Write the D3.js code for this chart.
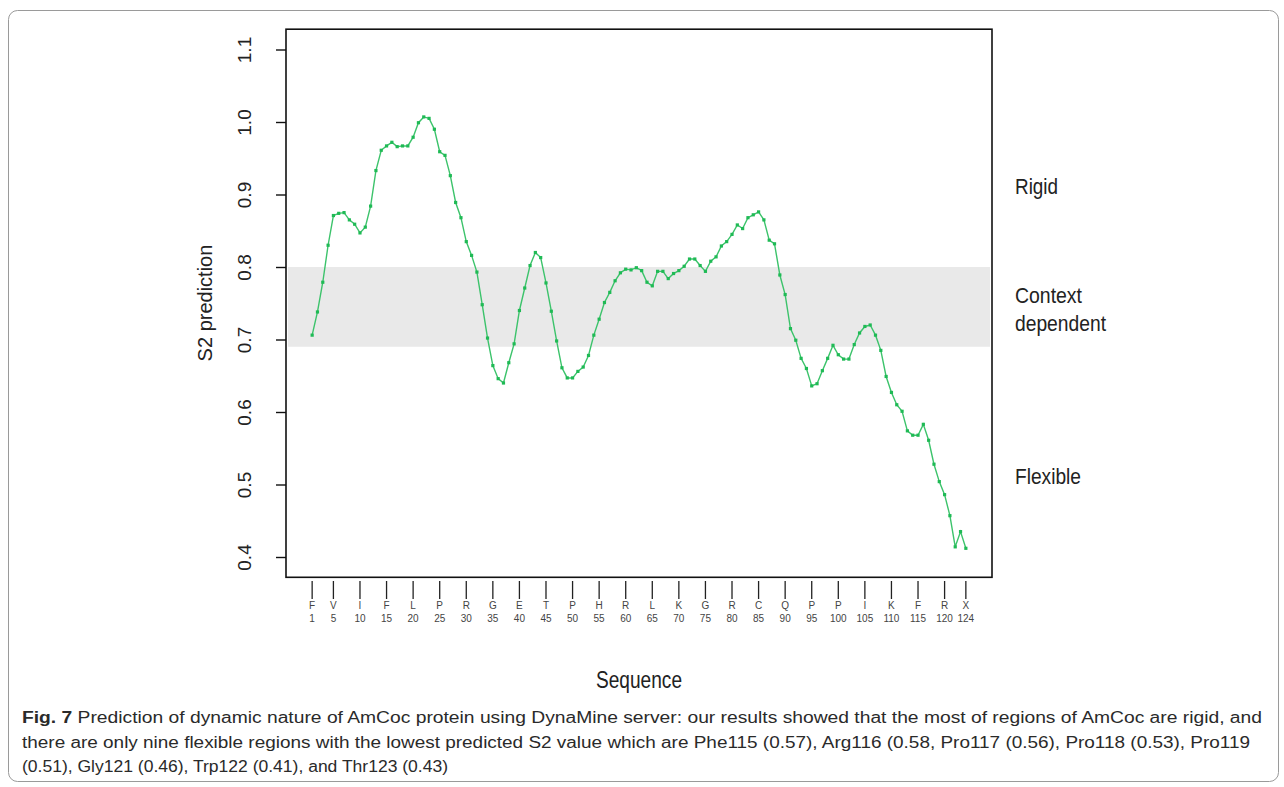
<!DOCTYPE html>
<html><head><meta charset="utf-8">
<script src="https://cdn.jsdelivr.net/npm/d3@7/dist/d3.min.js"></script>
<style>body{margin:0;background:#fff}svg{display:block}</style>
</head><body>
<svg id="c" width="1284" height="787"></svg>
<script>
const s2Values = [
0.706,0.738,0.779,0.830,0.871,0.874,0.875,0.865,0.859,0.847,
0.855,0.884,0.933,0.961,0.967,0.972,0.966,0.967,0.967,0.979,
0.999,1.007,1.005,0.990,0.959,0.954,0.926,0.889,0.868,0.835,
0.816,0.793,0.748,0.702,0.664,0.646,0.640,0.668,0.694,0.740,
0.771,0.802,0.820,0.813,0.778,0.739,0.698,0.661,0.647,0.647,
0.656,0.662,0.678,0.706,0.728,0.751,0.765,0.781,0.792,0.797,
0.796,0.799,0.795,0.779,0.774,0.794,0.794,0.784,0.791,0.795,
0.801,0.811,0.811,0.802,0.794,0.808,0.814,0.829,0.835,0.845,
0.858,0.853,0.868,0.872,0.876,0.865,0.837,0.832,0.789,0.762,
0.715,0.699,0.674,0.660,0.636,0.639,0.657,0.674,0.692,0.679,
0.673,0.673,0.693,0.709,0.718,0.720,0.706,0.685,0.649,0.627,
0.610,0.601,0.574,0.568,0.568,0.583,0.561,0.528,0.504,0.486,
0.457,0.414,0.435,0.412];
const residues = d3.range(1, 125);
const tickPositions = [1,5,10,15,20,25,30,35,40,45,50,55,60,65,70,75,80,85,90,95,100,105,110,115,120,124];
const tickLetters = ["F","V","I","F","L","P","R","G","E","T","P","H","R","L","K","G","R","C","Q","P","P","I","K","F","R","X"];
const yTicks = [0.4,0.5,0.6,0.7,0.8,0.9,1.0,1.1];
const band = [0.69, 0.80];
const zoneLabels = [["Rigid"],["Context","dependent"],["Flexible"]];
const captionLines = [
 "Prediction of dynamic nature of AmCoc protein using DynaMine server: our results showed that the most of regions of AmCoc are rigid, and",
 "there are only nine flexible regions with the lowest predicted S2 value which are Phe115 (0.57), Arg116 (0.58, Pro117 (0.56), Pro118 (0.53), Pro119",
 "(0.51), Gly121 (0.46), Trp122 (0.41), and Thr123 (0.43)"];

const svg = d3.select("#c");
const FONT = "Liberation Sans, Arial, sans-serif";
// outer figure frame
svg.append("rect").attr("x",8.5).attr("y",10.5).attr("width",1270).attr("height",771)
  .attr("rx",9).attr("fill","none").attr("stroke","#9a9a9a").attr("stroke-width",1);

const xPad = (124-1)*0.04, yPad = (1.1-0.4)*0.04;
const x = d3.scaleLinear().domain([1-xPad, 124+xPad]).range([286, 992]);
const y = d3.scaleLinear().domain([0.4-yPad, 1.1+yPad]).range([577.3, 29.2]);

// band
svg.append("rect").attr("x", x(1-xPad)+2).attr("width", x(124+xPad)-x(1-xPad)-4)
  .attr("y", y(band[1])).attr("height", y(band[0])-y(band[1])).attr("fill","#e9e9e9");

// line + points
const line = d3.line().x((d,i)=>x(residues[i])).y(d=>y(d));
svg.append("path").datum(s2Values).attr("d", line).attr("fill","none")
  .attr("stroke","#3cc36b").attr("stroke-width",1.4);
svg.selectAll("rect.pt").data(s2Values).join("rect").attr("class","pt")
  .attr("x",(d,i)=>x(residues[i])-1.6).attr("y",d=>y(d)-1.6)
  .attr("width",3.2).attr("height",3.2).attr("fill","#1fba55");

// box
svg.append("rect").attr("x",x(1-xPad)).attr("y",y(1.1+yPad))
  .attr("width",x(124+xPad)-x(1-xPad)).attr("height",y(0.4-yPad)-y(1.1+yPad))
  .attr("fill","none").attr("stroke","#111").attr("stroke-width",1.6);

// y axis
const yAxis = d3.axisLeft(y).tickValues(yTicks).tickFormat(d3.format(".1f")).tickSize(10).tickPadding(6);
const gy = svg.append("g").attr("transform",`translate(${x(1-xPad)},0)`).call(yAxis);
gy.select(".domain").remove();
gy.selectAll(".tick line").attr("stroke","#111").attr("stroke-width",1.4);
gy.selectAll(".tick text").attr("font-family",FONT)
  .attr("font-size",19).attr("fill","#222").attr("text-anchor","middle")
  .attr("x",0).attr("y",0).attr("dy",null)
  .attr("transform","translate(-35,0) rotate(-90)");

svg.append("text").attr("transform",`translate(212,303) rotate(-90)`).attr("text-anchor","middle")
  .attr("font-family",FONT).attr("font-size",20).attr("fill","#222")
  .text("S2 prediction");

// x axis ticks
const gx = svg.append("g");
gx.selectAll("line").data(tickPositions).join("line")
  .attr("x1",d=>x(d)).attr("x2",d=>x(d)).attr("y1",581).attr("y2",599)
  .attr("stroke","#222").attr("stroke-width",1.3);
gx.selectAll("text.l").data(tickPositions).join("text").attr("class","l")
  .attr("x",d=>x(d)).attr("y",609).attr("text-anchor","middle")
  .attr("font-family",FONT).attr("font-size",10).attr("fill","#444")
  .text((d,i)=>tickLetters[i]);
gx.selectAll("text.n").data(tickPositions).join("text").attr("class","n")
  .attr("x",d=>x(d)).attr("y",622).attr("text-anchor","middle")
  .attr("font-family",FONT).attr("font-size",10).attr("fill","#444")
  .text(d=>d);

svg.append("text").attr("x",596).attr("y",688)
  .attr("font-family",FONT).attr("font-size",23).attr("fill","#222")
  .attr("textLength",86).attr("lengthAdjust","spacingAndGlyphs")
  .text("Sequence");

// zone labels
const zoneY = [194, 303, 484];
const zoneW = [[43],[67,91],[66]];
zoneLabels.forEach((lines, k) => {
  lines.forEach((t, j) => {
    svg.append("text").attr("x",1015).attr("y",zoneY[k] + j*28)
      .attr("font-family",FONT).attr("font-size",22).attr("fill","#222")
      .attr("textLength",zoneW[k][j]).attr("lengthAdjust","spacingAndGlyphs")
      .text(t);
  });
});

// caption
const capY = [723, 748, 772];
const capW = [1240, 1228, 426];
captionLines.forEach((t, i) => {
  const tx = svg.append("text").attr("x",22).attr("y",capY[i])
    .attr("font-family",FONT).attr("font-size",16).attr("fill","#2a2a2a")
    .attr("textLength",capW[i]).attr("lengthAdjust","spacingAndGlyphs");
  if (i === 0) {
    tx.append("tspan").attr("font-weight","bold").text("Fig. 7");
    tx.append("tspan").text("  " + t);
  } else tx.text(t);
});
</script>
</body></html>
